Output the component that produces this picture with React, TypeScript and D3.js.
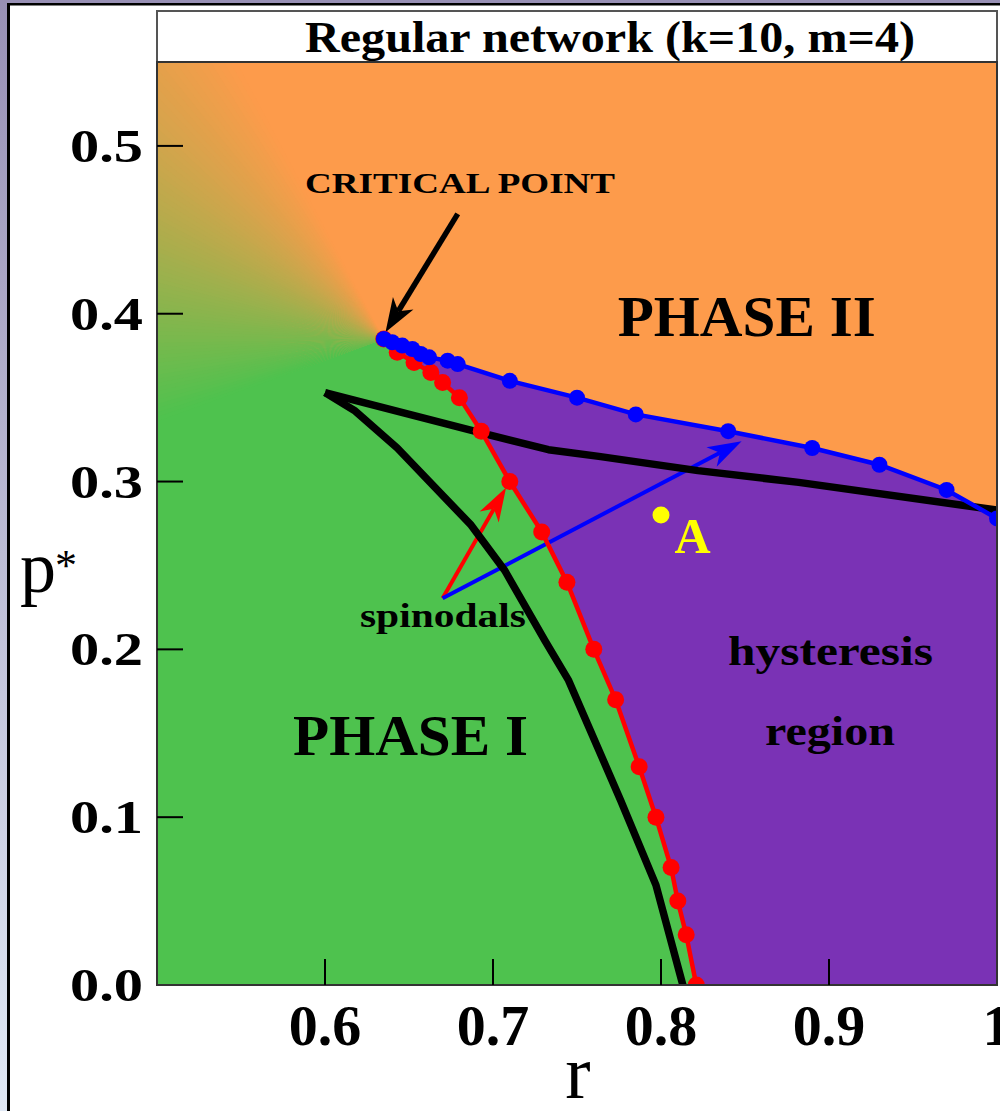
import React from 'react';
import * as d3 from 'd3';

// axis ticks
const xTicks = [0.6, 0.7, 0.8, 0.9, 1.0];
const xTickLabels = ['0.6', '0.7', '0.8', '0.9', '1'];
const yTicks = [0, 0.1, 0.2, 0.3, 0.4, 0.5];
const yTickLabels = ['0.0', '0.1', '0.2', '0.3', '0.4', '0.5'];

// upper boundary (blue)
const blueR = [0.635, 0.64, 0.646, 0.652, 0.657, 0.662, 0.673, 0.679, 0.71, 0.75, 0.785, 0.84, 0.89, 0.93, 0.97, 1.0];
const blueP = [0.385, 0.383, 0.381, 0.379, 0.376, 0.374, 0.372, 0.37, 0.36, 0.35, 0.34, 0.33, 0.32, 0.31, 0.295, 0.278];

// lower boundary (red)
const redR = [0.635, 0.643, 0.653, 0.663, 0.67, 0.68, 0.693, 0.71, 0.729, 0.744, 0.76, 0.773, 0.787, 0.797, 0.806, 0.81, 0.815, 0.821];
const redP = [0.385, 0.377, 0.371, 0.365, 0.359, 0.35, 0.33, 0.3, 0.27, 0.24, 0.2, 0.17, 0.13, 0.1, 0.07, 0.05, 0.03, 0.0];

// black curves (spinodals)
const blackUpperR = [0.6, 0.693, 0.733, 0.763, 0.822, 0.882, 1.0];
const blackUpperP = [0.353, 0.329, 0.319, 0.315, 0.3065, 0.2995, 0.283];
const blackLowerR = [0.6, 0.618, 0.643, 0.687, 0.707, 0.731, 0.745, 0.776, 0.797, 0.813];
const blackLowerP = [0.353, 0.342, 0.32, 0.274, 0.247, 0.205, 0.1815, 0.11, 0.0595, 0.0];

const criticalPoint = [0.635, 0.385];
const pointA = [0.8, 0.28];

const ORANGE = '#fd9b4b';
const GREEN = '#4ec24e';
const PURPLE = '#7a32b5';
const SERIF = '"Liberation Serif", "Times New Roman", serif';

const W = 1000;
const H = 1111;
const plot = { left: 157, right: 997, top: 62, bottom: 985 };

const x = d3.scaleLinear().domain([0.5, 1]).range([plot.left, plot.right]);
const y = d3.scaleLinear().domain([0, 0.55]).range([plot.bottom, plot.top]);

type Pt = [number, number];

function arrow(from: number[], to: number[], len: number, hw: number) {
  const x1 = x(from[0]);
  const y1 = y(from[1]);
  const x2 = x(to[0]);
  const y2 = y(to[1]);
  const dx = x2 - x1;
  const dy = y2 - y1;
  const L = Math.hypot(dx, dy);
  const ux = dx / L;
  const uy = dy / L;
  const bx = x2 - ux * len;
  const by = y2 - uy * len;
  const nx = x2 - ux * len * 0.72;
  const ny = y2 - uy * len * 0.72;
  const head = [
    [x2, y2],
    [bx - uy * hw, by + ux * hw],
    [nx, ny],
    [bx + uy * hw, by - ux * hw],
  ];
  return {
    line: { x1, y1, x2: nx, y2: ny },
    head: head.map((p) => p.join(',')).join(' '),
  };
}

const App = () => {
  const line = d3.line<Pt>().x((d) => d[0]).y((d) => d[1]);
  const toPts = (rs: number[], ps: number[]): Pt[] => rs.map((r, i) => [x(r), y(ps[i])]);

  const bluePts = toPts(blueR, blueP);
  const redPts = toPts(redR, redP);
  const cx = x(criticalPoint[0]);
  const cy = y(criticalPoint[1]);

  // conical blend orange -> green around the critical point
  const blendStart = 118;
  const blendEnd = 200;
  const N = 82;
  const step = (blendEnd - blendStart) / N;
  const R = 2500;
  const mix = d3.interpolateRgb(ORANGE, GREEN);
  const wedges = d3.range(N).map((i) => {
    const a0 = ((blendStart + i * step) * Math.PI) / 180;
    const a1 = ((blendStart + (i + 1) * step + 0.4) * Math.PI) / 180;
    return {
      d: `M${cx},${cy}L${cx + R * Math.cos(a0)},${cy - R * Math.sin(a0)}L${cx + R * Math.cos(a1)},${cy - R * Math.sin(a1)}Z`,
      fill: mix((i + 0.5) / N),
    };
  });

  const far = 3000;
  const aEnd = (blendEnd * Math.PI) / 180;
  const redRev = [...redPts].reverse();
  const redBottom = redPts[redPts.length - 1];
  const greenPoly: Pt[] = [
    [cx, cy],
    [cx + far * Math.cos(aEnd), cy - far * Math.sin(aEnd)],
    [cx - far, cy + far],
    [redBottom[0], cy + far],
    ...redRev,
  ];
  const blueLast = bluePts[bluePts.length - 1];
  const purplePoly: Pt[] = [
    ...bluePts,
    [plot.right + 50, blueLast[1]],
    [plot.right + 50, cy + far],
    [redBottom[0], cy + far],
    ...redRev,
  ];

  const arrows = [
    { a: arrow([0.679, 0.4595], [0.636, 0.389], 34, 12), color: '#000', w: 5.5 },
    { a: arrow([0.67, 0.2304], [0.7078, 0.2964], 34, 11), color: '#ff0000', w: 4 },
    { a: arrow([0.67, 0.2304], [0.848, 0.324], 34, 11), color: '#0000ff', w: 4 },
  ];

  const bold = { fontFamily: SERIF, fontWeight: 'bold' as const };

  return (
    <svg width={W} height={H} style={{ position: 'absolute', left: 0, top: 0 }}>
      <defs>
        <linearGradient id="strip" x1="0" y1="0" x2="0" y2="1">
          <stop offset="0" stopColor="#9890b5" />
          <stop offset="1" stopColor="#e0e8f5" />
        </linearGradient>
        <clipPath id="plotClip">
          <rect x={plot.left} y={plot.top} width={plot.right - plot.left} height={plot.bottom - plot.top} />
        </clipPath>
      </defs>

      <rect x={0} y={0} width={W} height={H} fill="#fff" />
      <rect x={0} y={0} width={8} height={H} fill="url(#strip)" />
      <rect x={0} y={0} width={W} height={3} fill="#9890b5" />
      <rect x={7} y={3} width={3} height={H} fill="#000" />
      <rect x={7} y={3} width={W} height={2.5} fill="#000" />

      {/* title box */}
      <rect x={plot.left} y={11} width={plot.right - plot.left} height={plot.top - 11} fill="#fff" stroke="#555" strokeWidth={2} />
      <text x={610 - 305} y={52} textLength={610} lengthAdjust="spacingAndGlyphs" fontSize={44} {...bold}>
        Regular network (k=10, m=4)
      </text>

      {/* regions */}
      <g clipPath="url(#plotClip)">
        <rect x={plot.left} y={plot.top} width={plot.right - plot.left} height={plot.bottom - plot.top} fill={ORANGE} />
        {wedges.map((w, i) => (
          <path key={i} d={w.d} fill={w.fill} />
        ))}
        <path d={line(greenPoly) + 'Z'} fill={GREEN} />
        <path d={line(purplePoly) + 'Z'} fill={PURPLE} />

        {arrows.map((ar, i) => (
          <g key={i}>
            <line {...ar.a.line} stroke={ar.color} strokeWidth={ar.w} />
            <polygon points={ar.a.head} fill={ar.color} />
          </g>
        ))}

        <path d={line(toPts(blackUpperR, blackUpperP)) || ''} fill="none" stroke="#000" strokeWidth={7.5} strokeLinejoin="round" />
        <path d={line(toPts(blackLowerR, blackLowerP)) || ''} fill="none" stroke="#000" strokeWidth={7.5} strokeLinejoin="round" />

        <path d={line(redPts) || ''} fill="none" stroke="#ff0000" strokeWidth={4.5} />
        {redPts.map((p, i) => (
          <circle key={i} cx={p[0]} cy={p[1]} r={8.5} fill="#ff0000" />
        ))}
        <path d={line(bluePts) || ''} fill="none" stroke="#0000ff" strokeWidth={4.5} />
        {bluePts.map((p, i) => (
          <circle key={i} cx={p[0]} cy={p[1]} r={8} fill="#0000ff" />
        ))}

        <circle cx={x(pointA[0])} cy={y(pointA[1])} r={8.5} fill="#ffff00" />
      </g>

      {/* frame */}
      <rect x={plot.left} y={plot.top} width={plot.right - plot.left} height={plot.bottom - plot.top} fill="none" stroke="#333" strokeWidth={2} />

      {/* ticks */}
      {yTicks.slice(1).map((t) => (
        <line key={t} x1={plot.left} x2={plot.left + 26} y1={y(t)} y2={y(t)} stroke="#000" strokeWidth={2} />
      ))}
      {xTicks.slice(0, 4).map((t) => (
        <line key={t} x1={x(t)} x2={x(t)} y1={plot.bottom} y2={plot.bottom - 26} stroke="#000" strokeWidth={2} />
      ))}

      {yTicks.map((t, i) => (
        <text key={t} x={plot.left - 87} y={y(t) + 16} textLength={73} lengthAdjust="spacingAndGlyphs" fontSize={46} {...bold}>
          {yTickLabels[i]}
        </text>
      ))}
      {xTicks.map((t, i) => (
        <text key={t} x={x(t)} y={1045} textAnchor="middle" fontSize={58} {...bold}>
          {xTickLabels[i]}
        </text>
      ))}

      {/* axis titles */}
      <text x={20} y={592} fontSize={72} fontFamily={SERIF}>p</text>
      <text x={55} y={580} fontSize={44} fontFamily={SERIF}>*</text>
      <text x={578} y={1098} textAnchor="middle" fontSize={76} fontFamily={SERIF}>r</text>

      {/* annotations */}
      <text x={x(0.6804) - 155} y={y(0.472)} textLength={310} lengthAdjust="spacingAndGlyphs" fontSize={30} {...bold}>
        CRITICAL POINT
      </text>
      <text x={x(0.851) - 129} y={y(0.387)} textLength={258} lengthAdjust="spacingAndGlyphs" fontSize={57} {...bold}>
        PHASE II
      </text>
      <text x={x(0.6506) - 117} y={y(0.137)} textLength={235} lengthAdjust="spacingAndGlyphs" fontSize={57} {...bold}>
        PHASE I
      </text>
      <text x={x(0.6208)} y={y(0.2133)} textLength={166} lengthAdjust="spacingAndGlyphs" fontSize={34} {...bold}>
        spinodals
      </text>
      <text x={x(0.9006) - 102} y={y(0.1907)} textLength={205} lengthAdjust="spacingAndGlyphs" fontSize={42} {...bold}>
        hysteresis
      </text>
      <text x={x(0.9006) - 65} y={y(0.143)} textLength={130} lengthAdjust="spacingAndGlyphs" fontSize={42} {...bold}>
        region
      </text>
      <text x={x(0.808)} y={y(0.2574)} fontSize={50} fill="#ffff00" {...bold}>
        A
      </text>
    </svg>
  );
};

export default App;
